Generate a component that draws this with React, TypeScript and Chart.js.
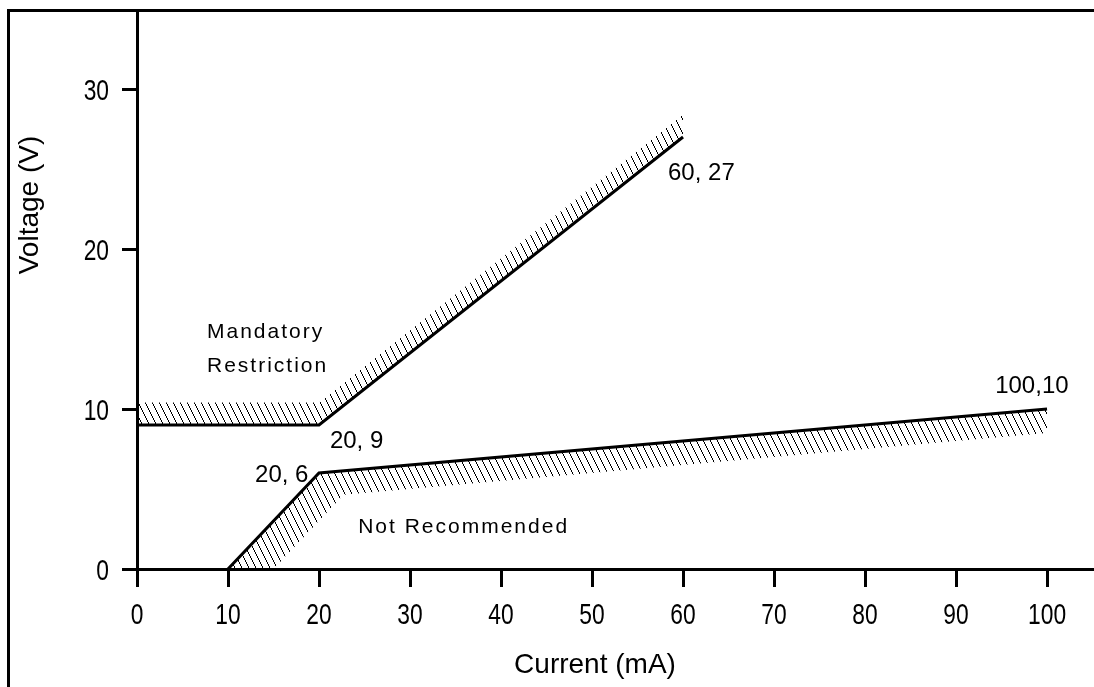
import React, { useEffect, useRef } from 'react';
import { Chart, registerables } from 'chart.js';

Chart.register(...registerables);

// ---- data ----
const xTicks = [0, 10, 20, 30, 40, 50, 60, 70, 80, 90, 100];
const yTicks = [0, 10, 20, 30];
const xMin = 0;
const xMax = 105.16;
const yMin = 0;
const yMax = 34.75;

// Mandatory restriction limit line (current mA, voltage V)
const restrictionX = [0, 20, 60];
const restrictionY = [9, 9, 27];
// Upper edge of its hatched band
const restrictionBandY = [10.4, 10.4, 28.4];

// Not-recommended limit line
const recommendX = [10, 20, 100];
const recommendY = [0, 6, 10];
// Lower edge of its hatched band
const recommendBandX = [10, 15, 22.7, 100];
const recommendBandY = [-3, 0, 4.64, 8.5];

const xTitle = 'Current (mA)';
const yTitle = 'Voltage (V)';

// Annotations anchored in data units
const noteTexts = ['Mandatory', 'Restriction', 'Not Recommended'];
const noteX = [7.69, 7.69, 24.3];
const noteY = [14.44, 12.31, 2.25];
const pointTexts = ['20, 9', '20, 6', '60, 27', '100,10'];
const pointX = [21.2, 12.97, 58.35, 94.3];
const pointY = [7.56, 5.44, 24.31, 11.0];

const SANS = "'Liberation Sans', Arial, sans-serif";

const toPts = (xs: number[], ys: number[]) => xs.map((x, i) => ({ x, y: ys[i] }));

function makeHatch(): CanvasPattern | string {
  const w = 7;
  const h = 14;
  const c = document.createElement('canvas');
  c.width = w;
  c.height = h;
  const g = c.getContext('2d');
  if (!g) return '#000';
  g.fillStyle = '#000';
  for (let r = 0; r < h; r++) g.fillRect(Math.floor(r / 2), r, 1, 1);
  const ctx = document.createElement('canvas').getContext('2d');
  const p = ctx ? ctx.createPattern(c, 'repeat') : null;
  return p || '#000';
}

const decorPlugin = {
  id: 'decor',
  beforeDraw(chart: any) {
    const ctx = chart.ctx;
    ctx.save();
    ctx.fillStyle = '#fff';
    ctx.fillRect(0, 0, chart.width, chart.height);
    ctx.strokeStyle = '#000';
    ctx.lineWidth = 3;
    ctx.beginPath();
    ctx.moveTo(8.5, chart.height);
    ctx.lineTo(8.5, 10.5);
    ctx.lineTo(chart.width, 10.5);
    ctx.stroke();
    ctx.restore();
  },
  afterDraw(chart: any) {
    const ctx = chart.ctx;
    const xs = chart.scales.x;
    const ys = chart.scales.y;
    ctx.save();
    ctx.fillStyle = '#000';
    ctx.textBaseline = 'alphabetic';

    // tick labels (narrow face)
    ctx.font = `30px ${SANS}`;
    ctx.textAlign = 'center';
    xs.ticks.forEach((t: any) => {
      ctx.save();
      ctx.translate(xs.getPixelForValue(t.value), 624);
      ctx.scale(0.76, 1);
      ctx.fillText(String(t.value), 0, 0);
      ctx.restore();
    });
    ctx.textAlign = 'right';
    ys.ticks.forEach((t: any) => {
      ctx.save();
      ctx.translate(109, ys.getPixelForValue(t.value) + 11);
      ctx.scale(0.76, 1);
      ctx.fillText(String(t.value), 0, 0);
      ctx.restore();
    });

    ctx.textAlign = 'left';
    // notes
    ctx.font = `21px ${SANS}`;
    (ctx as any).letterSpacing = '2px';
    noteTexts.forEach((t, i) => {
      ctx.fillText(t, xs.getPixelForValue(noteX[i]), ys.getPixelForValue(noteY[i]));
    });
    (ctx as any).letterSpacing = '0px';
    ctx.font = `24px ${SANS}`;
    pointTexts.forEach((t, i) => {
      ctx.fillText(t, xs.getPixelForValue(pointX[i]), ys.getPixelForValue(pointY[i]));
    });
    // axis titles
    ctx.font = `28px ${SANS}`;
    ctx.textAlign = 'center';
    ctx.fillText(xTitle, 595, 673);
    ctx.save();
    ctx.translate(38, 205);
    ctx.rotate(-Math.PI / 2);
    ctx.fillText(yTitle, 0, 0);
    ctx.restore();
    ctx.restore();
  },
};

export default function App() {
  const ref = useRef<HTMLCanvasElement>(null);

  useEffect(() => {
    if (!ref.current) return;
    const hatch = makeHatch();
    const chart = new Chart(ref.current, {
      type: 'line',
      data: {
        datasets: [
          {
            data: toPts(restrictionX, restrictionY),
            borderColor: '#000',
            borderWidth: 3,
            pointRadius: 0,
            fill: false,
            tension: 0,
          },
          {
            data: toPts(restrictionX, restrictionBandY),
            borderColor: 'rgba(0,0,0,0)',
            borderWidth: 0,
            pointRadius: 0,
            backgroundColor: hatch as any,
            fill: '-1',
            tension: 0,
          },
          {
            data: toPts(recommendX, recommendY),
            borderColor: '#000',
            borderWidth: 3,
            pointRadius: 0,
            fill: false,
            tension: 0,
          },
          {
            data: toPts(recommendBandX, recommendBandY),
            borderColor: 'rgba(0,0,0,0)',
            borderWidth: 0,
            pointRadius: 0,
            backgroundColor: hatch as any,
            fill: '-1',
            tension: 0,
          },
        ],
      },
      options: {
        responsive: false,
        animation: false,
        events: [],
        layout: { padding: { left: 0, right: 0, top: 13, bottom: 0 } },
        plugins: {
          legend: { display: false },
          tooltip: { enabled: false },
          title: { display: false },
        },
        scales: {
          x: {
            type: 'linear',
            min: xMin,
            max: xMax,
            afterBuildTicks: (s: any) => {
              s.ticks = xTicks.map((v) => ({ value: v }));
            },
            afterFit: (s: any) => {
              s.height = 118;
              s.paddingLeft = 0;
              s.paddingRight = 0;
              s.paddingTop = 0;
              s.paddingBottom = 0;
            },
            border: { display: true, color: '#000', width: 3 },
            grid: {
              drawOnChartArea: false,
              drawTicks: true,
              tickLength: 18,
              tickWidth: 3,
              tickColor: '#000',
            },
            ticks: { display: false },
          },
          y: {
            type: 'linear',
            min: yMin,
            max: yMax,
            afterBuildTicks: (s: any) => {
              s.ticks = yTicks.map((v) => ({ value: v }));
            },
            afterFit: (s: any) => {
              s.width = 137;
              s.paddingLeft = 0;
              s.paddingRight = 0;
              s.paddingTop = 0;
              s.paddingBottom = 0;
            },
            border: { display: true, color: '#000', width: 3 },
            grid: {
              drawOnChartArea: false,
              drawTicks: true,
              tickLength: 15,
              tickWidth: 3,
              tickColor: '#000',
            },
            ticks: { display: false },
          },
        },
      },
      plugins: [decorPlugin],
    });
    return () => chart.destroy();
  }, []);

  return (
    <div style={{ position: 'absolute', left: 0, top: 0, width: 1094, height: 687 }}>
      <canvas ref={ref} width={1094} height={687} style={{ display: 'block' }} />
    </div>
  );
}
